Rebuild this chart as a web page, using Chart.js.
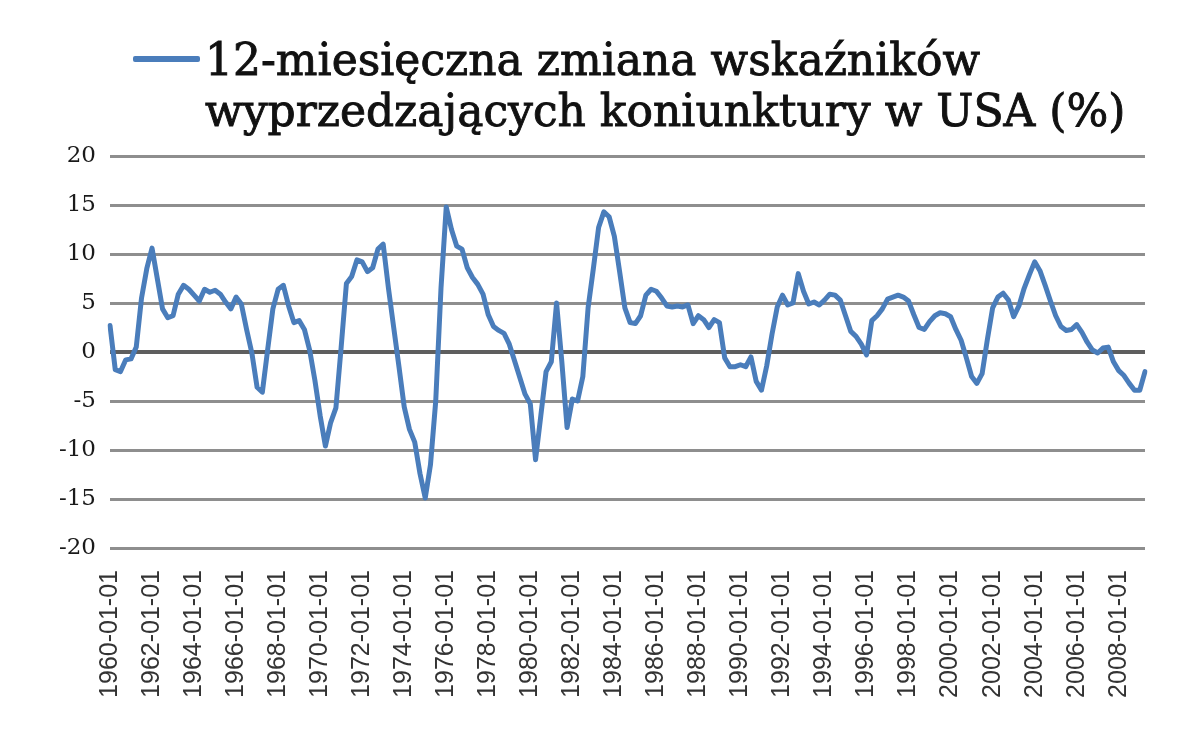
<!DOCTYPE html>
<html>
<head>
<meta charset="utf-8">
<script src="https://cdn.jsdelivr.net/npm/chart.js@4.4.1/dist/chart.umd.min.js"></script>
<style>
  html, body { margin: 0; padding: 0; background: #ffffff; }
  #wrap { position: relative; width: 1200px; height: 729px; }
  #chart { position: absolute; left: 0; top: 0; }
  #legendSwatch { position: absolute; left: 133px; top: 56px; width: 67px; height: 6px; background: #4a7dbb; border-radius: 2px; }
  #legendText { position: absolute; left: 205px; top: 34px; font-family: "DejaVu Serif", serif; font-size: 44px; line-height: 51px; color: #111111; white-space: nowrap; -webkit-text-stroke: 0.9px #111111; }
</style>
</head>
<body>
<div id="wrap">
  <canvas id="chart" width="1200" height="729"></canvas>
  <div id="legendSwatch"></div>
  <div id="legendText">12-miesięczna zmiana wskaźników<br>wyprzedzających koniunktury w USA (%)</div>
</div>
<script>
// Series label
const seriesName = "12-miesięczna zmiana wskaźników wyprzedzających koniunktury w USA (%)";

const values1960s = [2.7, -1.8, -2.0, -0.8, -0.7, 0.5, 5.5, 8.5, 10.6, 7.5,
                     4.4, 3.5, 3.7, 5.9, 6.8, 6.4, 5.8, 5.2, 6.4, 6.1,
                     6.3, 5.9, 5.1, 4.4, 5.6, 4.9, 2.3, -0.1, -3.6, -4.1,
                     0.2, 4.4, 6.4, 6.8, 4.7, 3.0, 3.2, 2.3, 0.2, -2.9];
const values1970s = [-6.5, -9.6, -7.2, -5.7, 0.5, 7.0, 7.7, 9.4, 9.2, 8.2,
                     8.6, 10.5, 11.0, 6.5, 2.5, -1.5, -5.6, -7.9, -9.2, -12.4,
                     -14.9, -11.5, -5.0, 6.5, 14.8, 12.5, 10.8, 10.5, 8.6, 7.6,
                     6.9, 5.9, 3.8, 2.6, 2.2, 1.9, 0.8, -0.9, -2.6, -4.3];
const values1980s = [-5.3, -11.0, -6.5, -2.0, -1.0, 5.0, -1.0, -7.7, -4.8, -5.0,
                     -2.5, 4.5, 8.5, 12.7, 14.3, 13.8, 11.8, 8.2, 4.5, 3.0,
                     2.9, 3.7, 5.8, 6.4, 6.2, 5.5, 4.7, 4.6, 4.7, 4.6,
                     4.8, 2.9, 3.7, 3.3, 2.5, 3.3, 3.0, -0.6, -1.5, -1.5];
const values1990s = [-1.3, -1.5, -0.5, -3.0, -3.9, -1.4, 1.8, 4.6, 5.8, 4.8,
                     5.0, 8.0, 6.2, 4.9, 5.1, 4.8, 5.3, 5.9, 5.8, 5.3,
                     3.7, 2.1, 1.6, 0.8, -0.3, 3.2, 3.7, 4.4, 5.4, 5.6,
                     5.8, 5.6, 5.2, 3.8, 2.5, 2.3, 3.1, 3.7, 4.0, 3.9];
const values2000s = [3.6, 2.3, 1.2, -0.6, -2.5, -3.2, -2.2, 1.3, 4.5, 5.6,
                     6.0, 5.3, 3.6, 4.7, 6.5, 7.9, 9.2, 8.3, 6.8, 5.2,
                     3.7, 2.6, 2.2, 2.3, 2.8, 2.0, 1.0, 0.2, -0.1, 0.4,
                     0.5, -1.0, -1.9, -2.4, -3.2, -3.9, -3.9, -2.0];

// Categories: quarterly dates 1960-01-01 .. 2009-04-01
const firstYear = 1960;
const quarterMonths = ["01", "04", "07", "10"];
const values = [].concat(values1960s, values1970s, values1980s, values1990s, values2000s);
const categories = values.map((_, i) => (firstYear + Math.floor(i / 4)) + "-" + quarterMonths[i % 4] + "-01");

// Tick labels shown on the category axis
const xTickLabels = ["1960-01-01","1962-01-01","1964-01-01","1966-01-01","1968-01-01","1970-01-01",
  "1972-01-01","1974-01-01","1976-01-01","1978-01-01","1980-01-01","1982-01-01","1984-01-01",
  "1986-01-01","1988-01-01","1990-01-01","1992-01-01","1994-01-01","1996-01-01","1998-01-01",
  "2000-01-01","2002-01-01","2004-01-01","2006-01-01","2008-01-01"];
const yTicks = [20, 15, 10, 5, 0, -5, -10, -15, -20];

new Chart(document.getElementById("chart"), {
  type: "line",
  data: {
    labels: categories,
    datasets: [{
      label: seriesName,
      data: values,
      borderColor: "#4a7dbb",
      borderWidth: 5,
      pointRadius: 0,
      tension: 0,
      borderJoinStyle: "round",
      borderCapStyle: "round",
      fill: false
    }]
  },
  options: {
    responsive: false,
    animation: false,
    layout: { padding: { left: 0, right: 55, top: 156, bottom: 0 } },
    plugins: { legend: { display: false }, tooltip: { enabled: false } },
    scales: {
      x: {
        type: "category",
        offset: false,
        grid: { display: false, drawTicks: false },
        border: { display: false },
        ticks: {
          autoSkip: false,
          minRotation: 90,
          maxRotation: 90,
          padding: 22,
          color: "#333333",
          font: { family: "Liberation Sans", size: 25 },
          callback: function (val, idx) {
            const lab = this.getLabelForValue(val);
            return xTickLabels.includes(lab) ? lab : "";
          }
        },
        afterFit: function (scale) { scale.height = 181; }
      },
      y: {
        min: -20,
        max: 20,
        afterBuildTicks: function (scale) { scale.ticks = yTicks.map(v => ({ value: v })); },
        grid: {
          drawTicks: false,
          color: (ctx) => (ctx.tick && ctx.tick.value === 0) ? "#5e5e5e" : "#8e8e8e",
          lineWidth: (ctx) => (ctx.tick && ctx.tick.value === 0) ? 4 : 3
        },
        border: { display: false },
        ticks: {
          padding: 14,
          color: "#1a1a1a",
          font: { family: "DejaVu Serif", size: 23 }
        },
        afterFit: function (scale) { scale.width = 110; }
      }
    }
  }
});
</script>
</body>
</html>
